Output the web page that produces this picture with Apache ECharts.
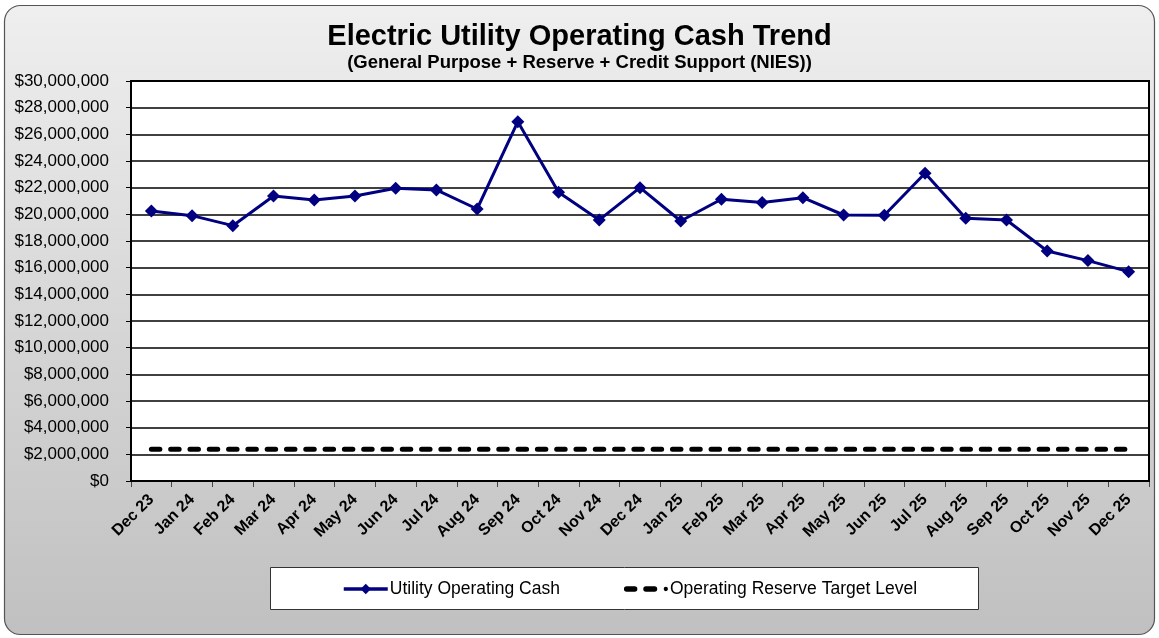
<!DOCTYPE html>
<html><head><meta charset="utf-8">
<script src="https://cdn.jsdelivr.net/npm/echarts@6/dist/echarts.min.js"></script>
<style>html,body{margin:0;padding:0;background:#fff}#c{width:1159px;height:638px}</style>
</head><body><div id="c"></div>
<script>
const categories = ["Dec 23","Jan 24","Feb 24","Mar 24","Apr 24","May 24","Jun 24","Jul 24","Aug 24","Sep 24","Oct 24","Nov 24","Dec 24","Jan 25","Feb 25","Mar 25","Apr 25","May 25","Jun 25","Jul 25","Aug 25","Sep 25","Oct 25","Nov 25","Dec 25"];
const operatingCash = [20250000,19900000,19150000,21380000,21080000,21380000,21950000,21830000,20400000,26950000,21650000,19580000,22000000,19500000,21130000,20880000,21250000,19950000,19930000,23080000,19700000,19580000,17250000,16530000,15700000];
const reserveTarget = [2380000,2380000,2380000,2380000,2380000,2380000,2380000,2380000,2380000,2380000,2380000,2380000,2380000,2380000,2380000,2380000,2380000,2380000,2380000,2380000,2380000,2380000,2380000,2380000,2380000];
const seriesNames = ["Utility Operating Cash","Operating Reserve Target Level"];
const titleText = "Electric Utility Operating Cash Trend";
const subtitleText = "(General Purpose + Reserve + Credit Support (NIES))";

const chart = echarts.init(document.getElementById('c'), null, {renderer:'canvas'});
const font = "'Liberation Sans', Arial, sans-serif";
const dashIcon = 'path://M2.5 0 H10 A2.5 2.5 0 0 1 10 5 H2.5 A2.5 2.5 0 0 1 2.5 0 Z M20.5 0 H28.5 A2.5 2.5 0 0 1 28.5 5 H20.5 A2.5 2.5 0 0 1 20.5 0 Z M39 0.5 A2 2 0 1 1 39 4.5 A2 2 0 1 1 39 0.5 Z';
chart.setOption({
  animation:false,
  backgroundColor:'#ffffff',
  graphic:[
    {type:'rect', z:-10, shape:{x:4.5,y:5.5,width:1150,height:629,r:16},
     style:{fill:new echarts.graphic.LinearGradient(0,0,0,1,[{offset:0,color:'#efefef'},{offset:0.55,color:'#d4d4d4'},{offset:1,color:'#c0c0c0'}]),stroke:'#555',lineWidth:1.2}},
    {type:'rect', z:-5, shape:{x:270.5,y:567.5,width:708,height:42},
     style:{fill:'#ffffff',stroke:'#333',lineWidth:1}},
    {type:'rect',z:3,shape:{x:131,y:81,width:1018,height:400},style:{fill:'none',stroke:'#000',lineWidth:2}}
  ],
  title:[
    {text:titleText, left:'center', top:17, textStyle:{fontFamily:font,fontSize:29,fontWeight:'bold',color:'#000'}},
    {text:subtitleText, left:'center', top:48, textStyle:{fontFamily:font,fontSize:18.5,fontWeight:'bold',color:'#000'}}
  ],
  legend:{
    left:337, top:575, itemGap:64, itemWidth:44, itemHeight:13,
    textStyle:{fontFamily:font,fontSize:17.5,color:'#000',padding:[0,0,0,-3]},
    data:[
      {name:seriesNames[0], lineStyle:{width:3.5}},
      {name:seriesNames[1], icon:dashIcon, itemStyle:{color:'#000',borderWidth:0}}
    ]
  },
  grid:{left:131,right:10,top:81,bottom:157,show:true,backgroundColor:'#ffffff',borderWidth:0},
  xAxis:{
    type:'category', data:categories, boundaryGap:true,
    axisLine:{lineStyle:{color:'#000',width:2}},
    axisTick:{show:true,length:6,lineStyle:{color:'#444',width:1}},
    axisLabel:{interval:0,rotate:45,fontFamily:font,fontSize:16,fontWeight:'bold',color:'#000',margin:16},
    splitLine:{show:false}
  },
  yAxis:{
    type:'value', min:0, max:30000000, interval:2000000,
    axisLine:{show:true,lineStyle:{color:'#000',width:2}},
    axisTick:{show:true,length:5,lineStyle:{color:'#000',width:1}},
    axisLabel:{fontFamily:font,fontSize:17,color:'#000',margin:22,
      formatter:v=>'$'+v.toLocaleString('en-US')},
    splitLine:{show:true,lineStyle:{color:'#000',width:1.5}}
  },
  series:[
    {name:seriesNames[0], type:'line', data:operatingCash, symbol:'diamond', symbolSize:13,
     itemStyle:{color:'#000080'}, lineStyle:{color:'#000080',width:3}, z:5},
    {name:seriesNames[1], type:'line', data:reserveTarget, symbol:'none', showSymbol:false,
     itemStyle:{color:'#000'}, lineStyle:{color:'#000',width:5,type:[8.5,10.8],cap:'round'}, z:4}
  ]
});
</script></body></html>
